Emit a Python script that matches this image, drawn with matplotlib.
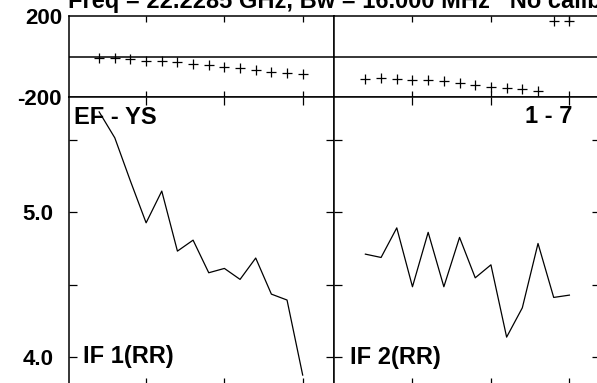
import matplotlib
matplotlib.use("Agg")
import matplotlib.pyplot as plt

plt.rcParams['font.family'] = ['Liberation Sans', 'DejaVu Sans']
plt.rcParams['font.weight'] = 'bold'

# ---- data ----
x_vals = [0.4, 0.6, 0.8, 1.0, 1.2, 1.4, 1.6, 1.8, 2.0, 2.2, 2.4, 2.6, 2.8, 3.0]
phase_if1 = [-6, -6, -12, -21, -21, -26, -37, -42, -52, -58, -67, -75, -83, -88]
phase_if2 = [-111, -108, -111, -118, -116, -120, -129, -141, -149, -154, -162, -169, 175, 175]
amp_if1 = [5.697, 5.517, 5.217, 4.928, 5.148, 4.732, 4.808, 4.582, 4.612, 4.536,
           4.684, 4.434, 4.393, 3.873]
amp_if2 = [4.711, 4.688, 4.893, 4.485, 4.862, 4.485, 4.827, 4.547, 4.637, 4.136,
           4.339, 4.785, 4.411, 4.427]
x_ticks = [1, 2, 3]
amp_ticks = [4.0, 4.5, 5.0, 5.5]
amp_ticklabels = ['4.0', '', '5.0', '']
phase_ticks = [-200, 200]
phase_ticklabels = ['-200', '200']
title = "Freq = 22.2285 GHz, Bw = 16.000 MHz   No calibration"
baseline_label = "EF - YS"
channel_label = "1 - 7"
if_labels = ["IF 1(RR)", "IF 2(RR)"]

W, H = 597, 383
fig = plt.figure(figsize=(W / 100, H / 100), dpi=100)


def rect(x0, y0, x1, y1):
    return [x0 / W, 1 - y1 / H, (x1 - x0) / W, (y1 - y0) / H]


ax_tl = fig.add_axes(rect(69, 16, 334, 97))
ax_tr = fig.add_axes(rect(334, 16, 600, 97))
ax_bl = fig.add_axes(rect(69, 97, 334, 385.6))
ax_br = fig.add_axes(rect(334, 97, 600, 385.6))

for ax in (ax_tl, ax_tr, ax_bl, ax_br):
    for s in ax.spines.values():
        s.set_linewidth(1.1)
    ax.set_xticks(x_ticks)
    ax.tick_params(axis='x', direction='in', top=True, bottom=True,
                   labelbottom=False, length=5, width=0.9)

ax_tl.set_xlim(0.015, 3.40)
ax_bl.set_xlim(0.015, 3.40)
ax_tr.set_xlim(0.0, 3.39)
ax_br.set_xlim(0.0, 3.39)

# phase panels
for ax, ph in ((ax_tl, phase_if1), (ax_tr, phase_if2)):
    ax.set_ylim(-200, 200)
    ax.axhline(0, color='black', lw=1.1)
    ax.plot(x_vals, ph, linestyle='none', marker='+', color='black',
            markersize=7, markeredgewidth=0.9)
    ax.tick_params(axis='x', length=4)
ax_tl.set_yticks(phase_ticks)
ax_tl.set_yticklabels(phase_ticklabels)
ax_tl.tick_params(axis='y', length=0, pad=5, labelsize=16)
ax_tr.set_yticks([])

# amplitude panels
for ax, amp in ((ax_bl, amp_if1), (ax_br, amp_if2)):
    ax.set_ylim(3.8, 5.8)
    ax.plot(x_vals, amp, color='black', lw=0.9)
    ax.set_yticks(amp_ticks)
    ax.tick_params(axis='y', direction='in', left=True, right=True,
                   length=6, width=0.9, pad=11, labelsize=16)
    ax.tick_params(axis='x', length=5.5)
ax_bl.set_yticklabels(amp_ticklabels)
ax_br.tick_params(axis='y', labelleft=False)

fs = 17
fig.text(68 / W, 1 - 8 / H, title, fontsize=17, fontweight='bold',
         ha='left', va='baseline')
fig.text(74 / W, 1 - 124 / H, baseline_label, fontsize=fs, fontweight='bold',
         ha='left', va='baseline')
fig.text(572 / W, 1 - 123 / H, channel_label, fontsize=fs, fontweight='bold',
         ha='right', va='baseline')
fig.text(83 / W, 1 - 363 / H, if_labels[0], fontsize=fs, fontweight='bold',
         ha='left', va='baseline')
fig.text(350 / W, 1 - 364 / H, if_labels[1], fontsize=fs, fontweight='bold',
         ha='left', va='baseline')

fig.savefig('out.png', dpi=100)
